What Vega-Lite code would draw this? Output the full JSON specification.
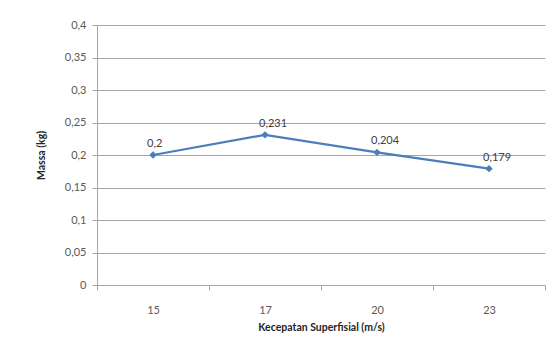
{
  "$schema": "https://vega.github.io/schema/vega-lite/v6.json",
  "width": 448,
  "height": 260,
  "autosize": {"type": "none"},
  "padding": {"left": 97, "top": 25, "right": 14, "bottom": 73},
  "background": "white",
  "config": {
    "font": "Lato",
    "view": {"stroke": null},
    "axis": {"labelFont": "Lato", "titleFont": "Lato", "labelColor": "#595959", "titleColor": "#262626", "labelFontSize": 11, "titleFontSize": 10.5}
  },
  "data": {
    "values": [
      {"speed": "15", "massa": 0.2, "label": "0,2"},
      {"speed": "17", "massa": 0.231, "label": "0,231"},
      {"speed": "20", "massa": 0.204, "label": "0,204"},
      {"speed": "23", "massa": 0.179, "label": "0,179"}
    ]
  },
  "encoding": {
    "x": {
      "field": "speed", "type": "ordinal", "sort": null,
      "scale": {"paddingInner": 0, "paddingOuter": 0},
      "axis": {"title": "Kecepatan Superfisial (m/s)", "labelAngle": 0, "labelPadding": 14, "titlePadding": 7, "titleFontWeight": "bold", "domainColor": "#a6a6a6", "tickColor": "#a6a6a6", "tickBand": "extent", "tickSize": 5, "grid": false}
    },
    "y": {
      "field": "massa", "type": "quantitative",
      "scale": {"domain": [0, 0.4], "nice": false},
      "axis": {"title": "Massa (kg)", "values": [0, 0.05, 0.1, 0.15, 0.2, 0.25, 0.3, 0.35, 0.4], "labelExpr": "replace(format(datum.value, '.2~f'), '.', ',')", "titleFontWeight": "bold", "titlePadding": 18, "domainColor": "#a6a6a6", "tickColor": "#a6a6a6", "tickSize": 5, "labelPadding": 6, "gridColor": "#a6a6a6", "grid": true}
    }
  },
  "layer": [
    {"mark": {"type": "line", "color": "#4a7ebb", "strokeWidth": 2.2}},
    {"mark": {"type": "point", "shape": "diamond", "filled": true, "color": "#4a7ebb", "size": 55, "opacity": 1}},
    {"mark": {"type": "text", "align": "left", "baseline": "bottom", "dx": -6, "dy": -6, "fontSize": 11, "color": "#404040", "font": "Lato"},
     "encoding": {"text": {"field": "label"}}}
  ]
}
